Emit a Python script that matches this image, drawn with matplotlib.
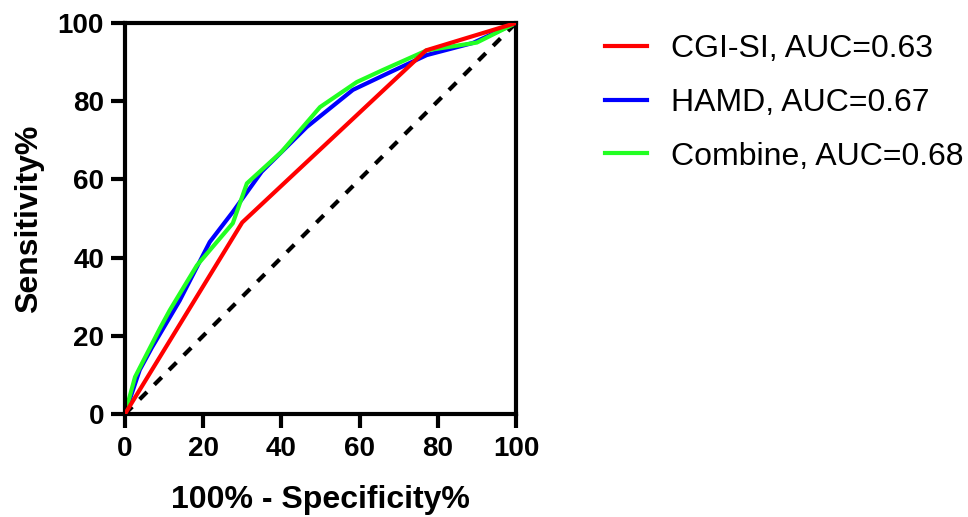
import matplotlib.pyplot as plt

plt.rcParams['font.family'] = ['Liberation Sans', 'DejaVu Sans']

# === ROC data ===
cgi_x = [0, 30, 77, 100]
cgi_y = [0, 49, 93, 100]

hamd_x = [0, 3.8, 6.9, 14, 21.7, 27.6, 35, 46.5, 58.3, 68, 77.2, 89, 100]
hamd_y = [0, 11.3, 17, 29, 44, 51.7, 62, 73.4, 82.9, 87.5, 91.8, 94.9, 100]

comb_x = [0, 2.6, 9, 11.5, 18.4, 27.6, 31.2, 40, 49.9, 59.3, 66, 77.2, 90, 100]
comb_y = [0, 9.5, 22, 26.6, 38, 48.8, 59, 67, 78.5, 84.9, 88, 93, 95, 100]

labels = ["CGI-SI, AUC=0.63", "HAMD, AUC=0.67", "Combine, AUC=0.68"]
colors = ["#ff0000", "#0000ff", "#22ff22"]

fig = plt.figure(figsize=(9.68, 5.17), dpi=100)
ax = fig.add_axes([0.129, 0.199, 0.404, 0.7565])

ax.plot(cgi_x, cgi_y, color=colors[0], lw=3, label=labels[0], zorder=3)
ax.plot(hamd_x, hamd_y, color=colors[1], lw=3, label=labels[1], zorder=2)
ax.plot(comb_x, comb_y, color=colors[2], lw=3, label=labels[2], zorder=2.5)
ax.plot([0, 100], [0, 100], color="black", lw=3, ls=(0, (2.5, 2.5)), zorder=1)

ax.set_xlim(0, 100)
ax.set_ylim(0, 100)
ax.set_xticks(range(0, 101, 20))
ax.set_yticks(range(0, 101, 20))
for s in ax.spines.values():
    s.set_linewidth(3)
ax.tick_params(direction="out", length=10, width=3, labelsize=20)
ax.tick_params(axis="x", pad=6)
ax.tick_params(axis="y", pad=5)
for t in ax.get_xticklabels() + ax.get_yticklabels():
    t.set_fontweight("bold")

ax.set_xlabel("100% - Specificity%", fontsize=23, fontweight="bold", labelpad=16)
ax.set_ylabel("Sensitivity%", fontsize=23, fontweight="bold", labelpad=10)

h, l = ax.get_legend_handles_labels()
fig.legend(h, l, loc="upper left", bbox_to_anchor=(0.602, 0.977), frameon=False,
           fontsize=23, handlelength=1.3, handletextpad=0.75, labelspacing=0.74,
           borderpad=0.2)

plt.savefig("out.png", dpi=100)
